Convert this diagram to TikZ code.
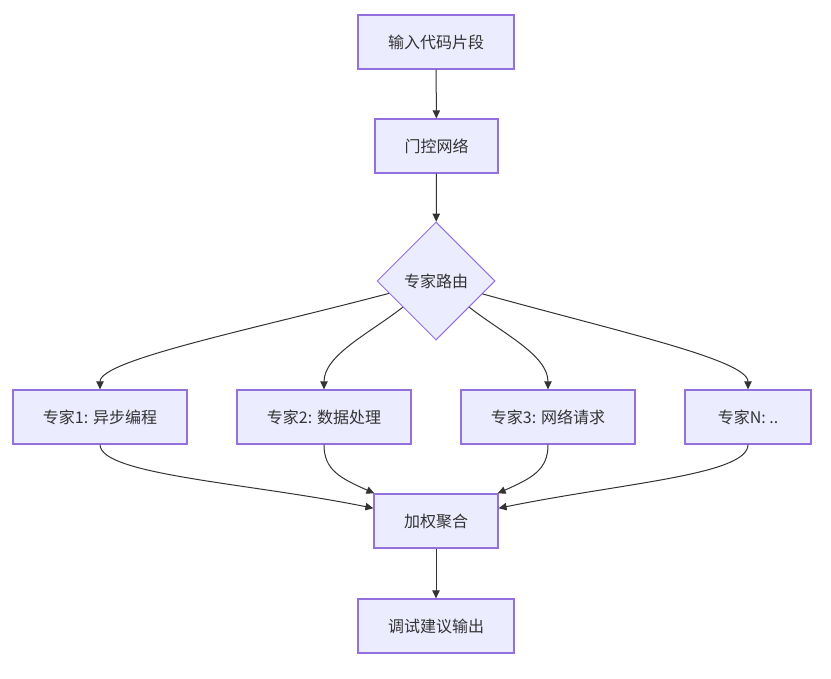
\documentclass[tikz,border=0pt]{standalone}
\usepackage{fontspec}
\setmainfont{Noto Sans CJK SC}
\usetikzlibrary{arrows.meta,shapes.geometric}
\usepackage{xcolor}
\definecolor{lavender}{HTML}{ECECFF}
\definecolor{violetline}{HTML}{9370DB}
\definecolor{black80}{HTML}{333333}

\begin{document}
\begin{tikzpicture}[
    x=0.75pt, y=-0.75pt,
    block/.style={draw=violetline, line width=0.9pt, fill=lavender, text=black80, minimum height=40.5pt, font=\fontsize{12}{14}\selectfont},
    decision/.style={diamond, draw=violetline, line width=0.75pt, fill=lavender, text=black80, minimum width=88.5pt, minimum height=88.5pt, inner sep=0pt, font=\fontsize{12}{14}\selectfont},
    arrow/.style={-{Triangle[length=6pt, width=5.5pt]}, line width=0.75pt, color=black80},
]
\useasboundingbox (0,0) rectangle (831,678);

\node[block, minimum width=117pt] (input) at (436,42) {输入代码片段};
\node[block, minimum width=92.25pt] (gate) at (436.5,146) {门控网络};
\node[decision] (route) at (436,281) {专家路由};
\node[block, minimum width=130.5pt] (e1) at (100,417) {专家1: 异步编程};
\node[block, minimum width=130.5pt] (e2) at (324,417) {专家2: 数据处理};
\node[block, minimum width=130.5pt] (e3) at (548,417) {专家3: 网络请求};
\node[block, minimum width=94.5pt] (eN) at (748,417) {专家N: ..};
\node[block, minimum width=93pt] (agg) at (436,521) {加权聚合};
\node[block, minimum width=117pt] (out) at (436,626) {调试建议输出};

\foreach \i/\j in {input/gate, gate/route, agg/out} {
    \draw[arrow] (\i) -- (\j);
}

\draw[arrow] (route) .. controls (250,330) and (100,360) .. (e1.north);
\draw[arrow] (route) .. controls (370,333) and (324,355) .. (e2.north);
\draw[arrow] (route) .. controls (502,333) and (548,355) .. (e3.north);
\draw[arrow] (route) .. controls (620,332) and (748,360) .. (eN.north);

\draw[arrow] (e1.south) .. controls (100,475) and (250,483) .. (agg);
\draw[arrow] (e2.south) .. controls (324,470) and (340,478) .. (agg);
\draw[arrow] (e3.south) .. controls (548,470) and (532,478) .. (agg);
\draw[arrow] (eN.south) .. controls (748,475) and (622,483) .. (agg);

\end{tikzpicture}
\end{document}
